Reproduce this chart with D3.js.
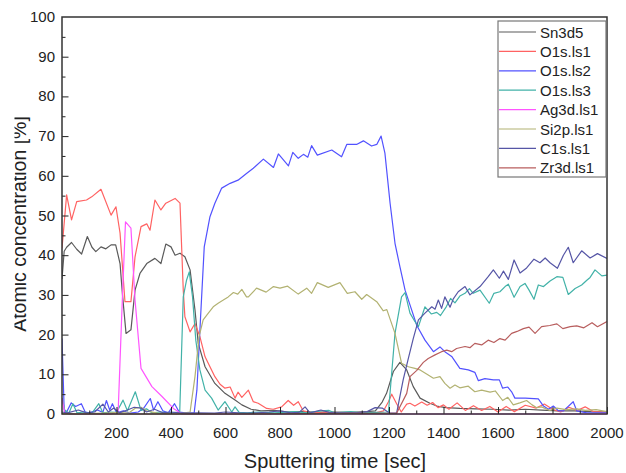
<!DOCTYPE html>
<html>
<head>
<meta charset="utf-8">
<script src="https://d3js.org/d3.v7.min.js"></script>
<style>
  body { margin: 0; background: #fff; }
  text { font-family: Arial, "Liberation Sans", sans-serif; fill: #222; }
</style>
</head>
<body>
<div id="chart"></div>
<script>
// series names and colours (legend order)
var names = ["Sn3d5", "O1s.ls1", "O1s.ls2", "O1s.ls3", "Ag3d.ls1", "Si2p.ls1", "C1s.ls1", "Zr3d.ls1"];
var colors = ["#5a5a5a", "#ff6262", "#5252ff", "#42b2a8", "#ff55ff", "#b2b272", "#5656a6", "#b85e5e"];

var xTicks = [200, 400, 600, 800, 1000, 1200, 1400, 1600, 1800, 2000];
var yTicks = [0, 10, 20, 30, 40, 50, 60, 70, 80, 90, 100];

// [time sec, atomic %]
var sn3d5 = [[0,34],[8,41],[17,42],[35,43.2],[54,41.5],[72,40.3],[93,44.7],[110,42],[124,40.9],[143,42.1],[161,41.6],[180,42.6],[197,42.6],[213,37.9],[222,30],[235,20.3],[253,21.2],[268,31.2],[286,35.4],[311,37.9],[341,39.2],[363,37.9],[381,42.8],[400,42.1],[415,40],[433,40.5],[451,39.6],[470,36.3],[488,26.2],[500,17.8],[525,11.9],[561,7.7],[598,5.2],[635,3.5],[660,2.3],[694,1.2],[730,0.8],[780,0.9],[830,0.5],[880,0.6],[940,0.4],[1000,0.5],[1060,0.4],[1120,0.6],[1150,0.8],[1175,3],[1191,5.2],[1216,10.7],[1240,13],[1265,11.1],[1289,6.9],[1314,4],[1350,2.7],[1380,1.9],[1410,1.6],[1460,1.4],[1520,1.3],[1580,1.2],[1640,1],[1700,1.2],[1760,1],[1820,0.8],[1880,0.8],[1940,0.6],[2000,0.5]];

var o1sLs1 = [[0,41.7],[17,55.2],[35,48.9],[54,53.5],[90,53.9],[109,54.7],[143,56.6],[180,50.1],[198,52.2],[213,45.6],[231,28.3],[253,28.3],[268,39.6],[290,47.2],[311,47.9],[323,46.3],[341,53.9],[363,51.4],[381,53.1],[415,54.3],[433,53.1],[445,31.2],[451,24.5],[470,20.7],[488,22.8],[506,19.5],[525,14.4],[561,9.4],[580,7.5],[598,6.5],[617,6.8],[635,4],[646,5.5],[660,4.2],[684,6],[702,3.1],[720,2.7],[751,1.4],[775,1.2],[806,1.8],[830,3.4],[850,2.2],[867,3.1],[885,0.8],[920,0.3],[960,0.5],[1000,0.2],[1050,0.3],[1100,0.1],[1150,0.3],[1180,0.8],[1198,3.1],[1210,5],[1228,2.6],[1245,0.5],[1265,2.5],[1277,2.7],[1295,2],[1320,3],[1340,2.2],[1360,2.9],[1380,1.6],[1400,2.3],[1420,1.2],[1450,2.8],[1480,0.9],[1510,2.1],[1540,0.9],[1570,1.9],[1600,0.5],[1630,1.9],[1660,0.6],[1700,2.2],[1740,1.5],[1770,2.5],[1800,1.2],[1830,0.5],[1860,1.7],[1890,0.9],[1920,1.8],[1950,0.6],[2000,0.4]];

var o1sLs2 = [[0,19],[8,1],[17,0.5],[34,2.8],[50,1.9],[71,2.6],[85,0.5],[100,0.3],[130,1],[150,0.4],[163,3.4],[175,1],[185,2.6],[200,0.3],[225,0.8],[250,0.2],[280,0.5],[300,1.5],[324,3.9],[336,1],[352,3.1],[370,0.8],[390,0.3],[413,2.6],[430,0.5],[460,0.2],[485,0.3],[495,6],[508,23.7],[522,42.1],[543,49.7],[561,53.1],[586,56.9],[617,58.1],[646,58.9],[677,60.6],[702,61.9],[739,64.2],[776,62.1],[794,65.5],[831,62.5],[847,65.9],[867,64.4],[886,65.4],[902,64.7],[916,67.6],[937,65.2],[990,66.5],[1026,64.8],[1045,67.9],[1081,67.9],[1106,68.8],[1136,67.5],[1155,67.9],[1171,70],[1185,65.7],[1204,53.1],[1222,43],[1240,37.1],[1259,31.2],[1277,27.5],[1302,22.3],[1332,18.6],[1363,15.7],[1387,16.9],[1405,15.7],[1430,14.5],[1460,11.5],[1491,11.1],[1515,10.5],[1528,8.4],[1552,8.9],[1583,8.6],[1605,8.6],[1617,6.5],[1636,6.8],[1650,5.6],[1662,4],[1700,4],[1748,3.8],[1767,2],[1785,1.2],[1803,2],[1822,0.8],[1840,0.8],[1876,3.1],[1889,0.8],[1926,0.3],[2000,0.3]];

var o1sLs3 = [[0,4],[10,1],[25,0.2],[40,2.6],[55,0.3],[80,0.5],[110,0.2],[135,2.6],[150,0.3],[175,0.5],[200,0.4],[224,3.5],[240,0.8],[269,5.6],[290,0.9],[310,1.3],[330,0.3],[360,0.5],[400,0.3],[432,0.5],[445,29.5],[457,33.7],[467,35.8],[479,29.5],[491,18.6],[506,11.1],[525,6],[549,4],[573,1],[598,3.1],[623,0.5],[635,1.8],[650,0.4],[680,0.3],[720,0.5],[780,0.3],[850,0.6],[900,0.3],[950,0.8],[980,0.9],[1000,0.3],[1060,0.6],[1100,0.3],[1150,0.4],[1198,0.5],[1222,20.3],[1246,29.5],[1259,30.6],[1277,25.4],[1295,23.3],[1308,22],[1332,27],[1355,25.2],[1375,25.6],[1389,24.8],[1410,27],[1426,29.1],[1442,28],[1460,29.7],[1479,30.4],[1495,31.6],[1509,30.4],[1534,31.2],[1568,27.9],[1585,30.4],[1607,30.8],[1626,32.1],[1638,32.7],[1659,29.4],[1681,32.1],[1699,32.9],[1714,31.2],[1732,28.9],[1748,32.5],[1767,32.1],[1791,33.5],[1816,34.6],[1838,34.4],[1858,30.1],[1883,31.6],[1907,32.5],[1926,33.7],[1938,34.4],[1956,36.3],[1981,34.8],[2000,35]];

var ag3dLs1 = [[0,4],[10,0.3],[30,0],[100,0],[180,0],[206,0.5],[222,30],[233,48.4],[253,46.8],[268,28.7],[290,11.5],[330,6.9],[367,4.4],[409,1.4],[440,0],[500,0],[1000,0],[2000,0]];

var si2pLs1 = [[0,0.3],[50,0],[150,0.2],[250,0.5],[270,1.5],[290,1.7],[310,0.8],[350,0.2],[420,0],[470,0.5],[488,9.4],[503,19.5],[518,23.7],[537,25.4],[555,27],[573,27.9],[592,28.7],[610,29.5],[629,30.6],[645,30.2],[660,31.4],[677,29.5],[684,29.5],[714,31.7],[749,30.7],[776,32.1],[800,31.7],[828,32.2],[867,30.2],[898,31.7],[916,30.4],[937,33.1],[977,31.9],[1020,33.1],[1047,30.4],[1075,30.8],[1100,28.9],[1118,30.1],[1155,28.3],[1179,26],[1192,26.3],[1222,20.3],[1246,12.8],[1271,11.9],[1295,11.5],[1314,11.1],[1338,10.1],[1363,9],[1387,9.4],[1405,7.7],[1424,6.5],[1442,7.3],[1460,6.6],[1491,7],[1515,5.6],[1540,6],[1571,5.5],[1590,5.8],[1617,3.4],[1636,4.2],[1656,2.3],[1680,2.8],[1705,3.4],[1725,2.3],[1742,1.6],[1760,1.8],[1790,0.9],[1816,1.5],[1850,1.1],[1890,1.3],[1920,0.9],[1960,1.1],[2000,0.6]];

var c1sLs1 = [[0,0.5],[20,0.3],[60,1],[90,0.3],[120,0.5],[150,2.5],[170,0.5],[190,1.5],[210,0.3],[240,1],[265,1.7],[290,1.5],[310,0.5],[340,1.2],[370,0.3],[400,0.5],[440,0.2],[500,0.3],[560,0.2],[600,0.5],[650,0.3],[700,0.2],[760,0.5],[800,0.8],[840,0.3],[870,0.4],[892,1.8],[910,0.3],[950,1],[980,0.4],[1020,0.3],[1080,0.3],[1120,0.6],[1149,1.6],[1175,1.5],[1200,0.3],[1228,0.2],[1252,8.6],[1271,14],[1289,19],[1308,23.7],[1332,25.4],[1357,27],[1369,26.4],[1381,28.7],[1393,26.6],[1405,29.5],[1424,26.9],[1436,29],[1454,30.8],[1479,32.1],[1497,30],[1534,32.1],[1564,34.6],[1583,36.3],[1605,34.2],[1620,36],[1638,33.9],[1659,38.8],[1681,35.5],[1705,36.8],[1732,39],[1754,38.1],[1773,39.3],[1791,38.1],[1818,36.7],[1840,40],[1858,42],[1876,38.1],[1907,41.1],[1938,39.3],[1965,40.4],[2000,39.2]];

var zr3dLs1 = [[0,0],[600,0],[1228,0.2],[1265,5.2],[1277,9.4],[1302,11],[1326,13],[1344,14],[1369,14.9],[1393,15.7],[1412,16.1],[1430,15.7],[1448,16.5],[1479,17],[1497,16.7],[1515,17.8],[1540,17.4],[1564,18.6],[1585,18],[1607,19],[1626,18.6],[1650,20.3],[1670,20.8],[1693,21.5],[1714,21.9],[1736,20.3],[1760,22],[1790,22.3],[1816,22.7],[1838,21.5],[1865,22],[1889,22.2],[1915,21.7],[1945,23],[1965,22],[2000,23.3]];

var series = [sn3d5, o1sLs1, o1sLs2, o1sLs3, ag3dLs1, si2pLs1, c1sLs1, zr3dLs1];

var W = 626, H = 473;
var mLeft = 62, mRight = 607, mTop = 17, mBottom = 414;

var svg = d3.select("#chart").append("svg")
    .attr("width", W)
    .attr("height", H);

var x = d3.scaleLinear().domain([0, 2000]).range([mLeft, mRight]);
var y = d3.scaleLinear().domain([0, 100]).range([mBottom, mTop]);

svg.append("clipPath").attr("id", "plotClip")
    .append("rect")
    .attr("x", mLeft).attr("y", mTop)
    .attr("width", mRight - mLeft).attr("height", mBottom - mTop + 1);

var line = d3.line()
    .x(function(d) { return x(d[0]); })
    .y(function(d) { return y(d[1]); });

var lines = svg.append("g").attr("clip-path", "url(#plotClip)");
lines.selectAll("path")
    .data(series)
    .enter()
    .append("path")
    .attr("d", line)
    .attr("fill", "none")
    .attr("stroke", function(d, i) { return colors[i]; })
    .attr("stroke-width", 1.2)
    .attr("stroke-linejoin", "round");

// axes, ticks point inward
var xAxis = svg.append("g")
    .attr("transform", "translate(0," + mBottom + ")")
    .call(d3.axisBottom(x).tickValues(d3.range(100, 2001, 100)).tickSize(-3.5).tickFormat(""));
xAxis.selectAll(".tick line").attr("stroke", "#222");
xAxis.selectAll(".tick").filter(function(d) { return d % 200 === 0; })
    .select("line").attr("y2", -7);
xAxis.select(".domain").remove();

svg.selectAll(".xlab")
    .data(xTicks)
    .enter()
    .append("text")
    .attr("class", "xlab")
    .attr("x", function(d) { return x(d); })
    .attr("y", 438)
    .attr("text-anchor", "middle")
    .style("font-size", "15px")
    .text(function(d) { return d; });

var yAxis = svg.append("g")
    .attr("transform", "translate(" + mLeft + ",0)")
    .call(d3.axisLeft(y).tickValues(d3.range(5, 100, 5)).tickSize(-3.5).tickFormat(""));
yAxis.selectAll(".tick line").attr("stroke", "#222");
yAxis.selectAll(".tick").filter(function(d) { return d % 10 === 0; })
    .select("line").attr("x2", 6.5);
yAxis.select(".domain").remove();

svg.selectAll(".ylab")
    .data(yTicks)
    .enter()
    .append("text")
    .attr("class", "ylab")
    .attr("x", 55)
    .attr("y", function(d) { return y(d) + 5; })
    .attr("text-anchor", "end")
    .style("font-size", "15px")
    .text(function(d) { return d; });

// frame
svg.append("rect")
    .attr("x", mLeft).attr("y", mTop)
    .attr("width", mRight - mLeft).attr("height", mBottom - mTop)
    .attr("fill", "none")
    .attr("stroke", "#333")
    .attr("stroke-width", 1.5);

svg.append("text")
    .attr("x", 335)
    .attr("y", 468)
    .attr("text-anchor", "middle")
    .style("font-size", "20px")
    .text("Sputtering time [sec]");

// y title is cut on its top edge in the original
svg.append("clipPath").attr("id", "ytClip")
    .append("rect").attr("x", 14.5).attr("y", 0).attr("width", 40).attr("height", H);
svg.append("g")
    .attr("clip-path", "url(#ytClip)")
    .append("text")
    .attr("transform", "translate(25.7,224) rotate(-90)")
    .attr("text-anchor", "middle")
    .style("font-size", "19.5px")
    .text("Atomic concentration [%]");

// legend
var lg = svg.append("g");
lg.append("rect")
    .attr("x", 498).attr("y", 21)
    .attr("width", 108).attr("height", 156)
    .attr("fill", "#fff")
    .attr("stroke", "#777")
    .attr("stroke-width", 1.2);

var items = lg.selectAll(".item")
    .data(names)
    .enter()
    .append("g")
    .attr("class", "item")
    .attr("transform", function(d, i) { return "translate(0," + (32 + i * 19.4) + ")"; });

items.append("line")
    .attr("x1", 499).attr("x2", 536)
    .attr("y1", 0).attr("y2", 0)
    .attr("stroke", function(d, i) { return colors[i]; })
    .attr("stroke-width", 1.2);

items.append("text")
    .attr("x", 540)
    .attr("y", 5.5)
    .style("font-size", "15px")
    .text(function(d) { return d; });
</script>
</body>
</html>
